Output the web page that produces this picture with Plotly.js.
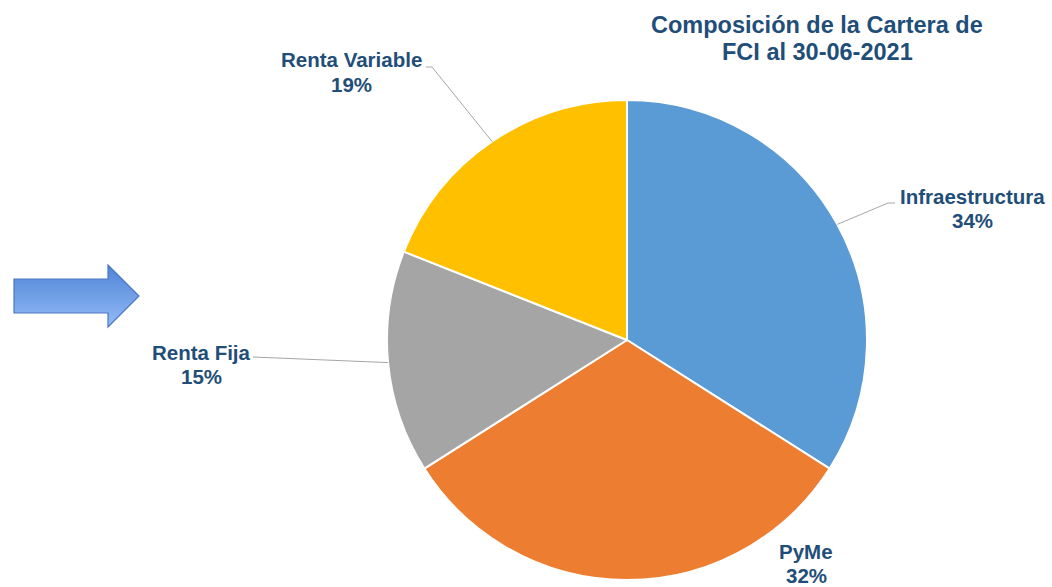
<!DOCTYPE html>
<html>
<head>
<meta charset="utf-8">
<script src="https://cdn.plot.ly/plotly-3.0.1.min.js"></script>
<style>html,body{margin:0;padding:0;background:#fff;}#chart{width:1052px;height:587px;}</style>
</head>
<body>
<div id="chart"></div>
<script>
// ---- data ----
const categories = ["Infraestructura", "PyMe", "Renta Fija", "Renta Variable"];
const values = [34, 32, 15, 19];
const colors = ["#5B9BD5", "#ED7D31", "#A5A5A5", "#FFC000"];
const titleLines = ["Composición de la Cartera de", "FCI al 30-06-2021"];

// ---- layout geometry (pixels) ----
const W = 1052, H = 587;
const cx = 627, cy = 340, R = 240;
// label text centres and leader-line elbows (pixels)
const labelPos = [
  {x: 972, y: 196, elbow: [[888, 203], [895, 203]]},
  {x: 806, y: 551, elbow: null},
  {x: 201, y: 352, elbow: [[253, 357]]},
  {x: 351, y: 60, elbow: [[432, 67], [426, 67]]}
];
const titlePos = {x: 817, y: [25, 52]};
const px = x => x / W;
const py = y => 1 - y / H;

const total = values.reduce((a, b) => a + b, 0);
const textColor = "#1F4E79";
const font = "Liberation Sans, Arial, sans-serif";

const annotations = [];
const shapes = [];
let cum = 0;
values.forEach((v, i) => {
  const mid = (cum + v / 2) / total * 2 * Math.PI;
  cum += v;
  const ex = cx + R * Math.sin(mid);
  const ey = cy - R * Math.cos(mid);
  const lp = labelPos[i];
  const pct = Math.round(v / total * 100) + "%";
  annotations.push({xref: "paper", yref: "paper", x: px(lp.x), y: py(lp.y), text: "<b>" + categories[i] + "</b>",
    showarrow: false, xanchor: "center", yanchor: "middle", font: {family: font, size: 20.5, color: textColor}});
  annotations.push({xref: "paper", yref: "paper", x: px(lp.x), y: py(lp.y + 24), text: "<b>" + pct + "</b>",
    showarrow: false, xanchor: "center", yanchor: "middle", font: {family: font, size: 20.5, color: textColor}});
  if (lp.elbow) {
    let path = "M" + px(ex) + "," + py(ey);
    lp.elbow.forEach(p => { path += " L" + px(p[0]) + "," + py(p[1]); });
    shapes.push({type: "path", xref: "paper", yref: "paper", path: path, line: {color: "#A6A6A6", width: 1}});
  }
});
titleLines.forEach((t, i) => {
  annotations.push({xref: "paper", yref: "paper", x: px(titlePos.x), y: py(titlePos.y[i]), text: "<b>" + t + "</b>",
    showarrow: false, xanchor: "center", yanchor: "middle", font: {family: font, size: 23.5, color: textColor}});
});

const arrowSvg = '<svg xmlns="http://www.w3.org/2000/svg" width="128" height="66" viewBox="0 0 128 66">' +
  '<defs><linearGradient id="g" x1="0" y1="0" x2="0" y2="1">' +
  '<stop offset="0" stop-color="#4F84D6"/><stop offset="1" stop-color="#93BBF7"/></linearGradient></defs>' +
  '<path d="M1,15 L95,15 L95,1 L126,32 L95,63 L95,49 L1,49 Z" fill="url(#g)" stroke="#4A78C0" stroke-width="1.2"/></svg>';

const data = [{
  type: "pie",
  labels: categories,
  values: values,
  sort: false,
  direction: "clockwise",
  rotation: 0,
  marker: {colors: colors, line: {color: "#FFFFFF", width: 2}},
  textinfo: "none",
  textposition: "none",
  hoverinfo: "label+percent",
  showlegend: false,
  domain: {x: [(cx - R) / W, (cx + R) / W], y: [1 - (cy + R) / H, 1 - (cy - R) / H]}
}];

const layout = {
  width: W, height: H,
  margin: {l: 0, r: 0, t: 0, b: 0},
  paper_bgcolor: "#FFFFFF",
  plot_bgcolor: "#FFFFFF",
  showlegend: false,
  annotations: annotations,
  shapes: shapes,
  images: [{source: "data:image/svg+xml;base64," + btoa(arrowSvg), xref: "paper", yref: "paper",
    x: px(13), y: py(264), sizex: 128 / W, sizey: 66 / H, sizing: "stretch", xanchor: "left", yanchor: "top", layer: "above"}]
};

Plotly.newPlot("chart", data, layout, {displayModeBar: false, staticPlot: true});
</script>
</body>
</html>
